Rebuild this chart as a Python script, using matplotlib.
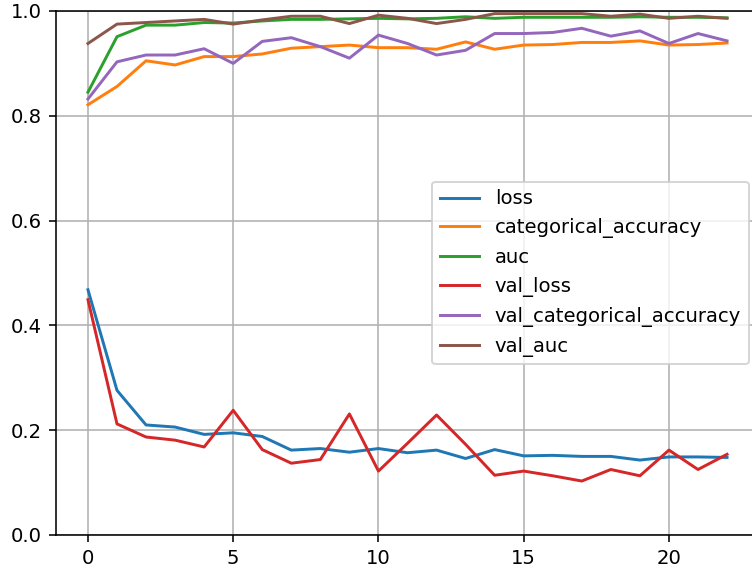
import matplotlib
matplotlib.use("Agg")
import matplotlib.pyplot as plt
import pandas as pd

epochs = list(range(23))

loss = [0.468, 0.276, 0.210, 0.206, 0.192, 0.195, 0.188, 0.162, 0.165, 0.158,
        0.165, 0.157, 0.162, 0.146, 0.163, 0.151, 0.152, 0.150, 0.150, 0.143,
        0.149, 0.149, 0.148]
categorical_accuracy = [0.821, 0.856, 0.905, 0.897, 0.913, 0.913, 0.918, 0.929,
                        0.932, 0.935, 0.930, 0.930, 0.927, 0.941, 0.927, 0.935,
                        0.936, 0.940, 0.940, 0.943, 0.935, 0.936, 0.939]
auc = [0.845, 0.951, 0.973, 0.973, 0.978, 0.977, 0.981, 0.984, 0.984, 0.985,
       0.986, 0.985, 0.986, 0.989, 0.986, 0.988, 0.988, 0.988, 0.988, 0.989,
       0.988, 0.988, 0.987]
val_loss = [0.449, 0.212, 0.187, 0.181, 0.168, 0.238, 0.163, 0.137, 0.144, 0.231,
            0.122, 0.175, 0.229, 0.173, 0.114, 0.122, 0.113, 0.103, 0.125, 0.113,
            0.162, 0.125, 0.154]
val_categorical_accuracy = [0.832, 0.903, 0.916, 0.916, 0.928, 0.900, 0.942, 0.949,
                            0.932, 0.910, 0.954, 0.938, 0.916, 0.925, 0.957, 0.957,
                            0.959, 0.967, 0.952, 0.962, 0.938, 0.957, 0.943]
val_auc = [0.938, 0.975, 0.978, 0.981, 0.984, 0.975, 0.983, 0.990, 0.990, 0.976,
           0.992, 0.986, 0.976, 0.984, 0.995, 0.995, 0.995, 0.995, 0.990, 0.994,
           0.986, 0.990, 0.986]

history = pd.DataFrame({
    "loss": loss,
    "categorical_accuracy": categorical_accuracy,
    "auc": auc,
    "val_loss": val_loss,
    "val_categorical_accuracy": val_categorical_accuracy,
    "val_auc": val_auc,
}, index=epochs)

DPI = 141.7
fig = plt.figure(figsize=(752 / DPI, 569 / DPI), dpi=DPI)
ax = fig.add_axes([56 / 752, 34 / 569, 703 / 752, 524 / 569])
history.plot(ax=ax)
ax.grid(True)
ax.set_ylim(0, 1)
ax.legend(loc="center right")

fig.savefig("out.png", dpi=DPI)
